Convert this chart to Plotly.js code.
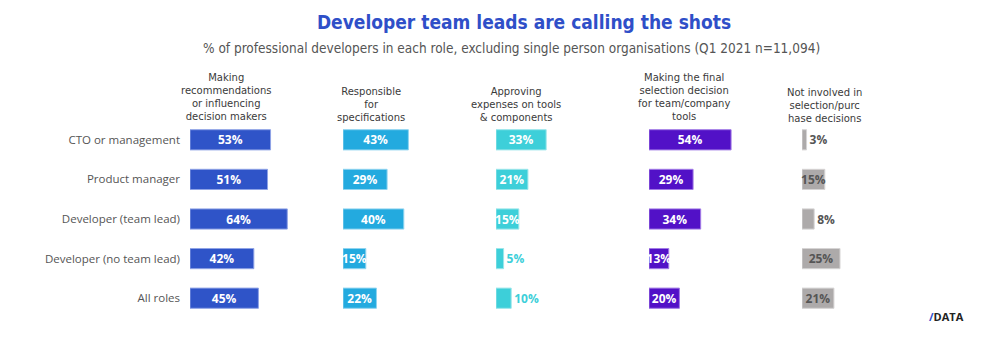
<!DOCTYPE html>
<html>
<head>
<meta charset="utf-8">
<script src="https://cdn.plot.ly/plotly-3.0.1.min.js"></script>
<style>html,body{margin:0;padding:0;background:#fff;}#chart{width:1000px;height:358px;}</style>
</head>
<body>
<div id="chart"></div>
<script>
const roles = ["CTO or management", "Product manager", "Developer (team lead)", "Developer (no team lead)", "All roles"];
const columnHeaders = [
  ["Making", "recommendations", "or influencing", "decision makers"],
  ["Responsible", "for", "specifications"],
  ["Approving", "expenses on tools", "& components"],
  ["Making the final", "selection decision", "for team/company", "tools"],
  ["Not involved in", "selection/purc", "hase decisions"]
];
const recommending = [53, 51, 64, 42, 45];
const specifications = [43, 29, 40, 15, 22];
const approving = [33, 21, 15, 5, 10];
const finalDecision = [54, 29, 34, 13, 20];
const notInvolved = [3, 15, 8, 25, 21];

const series = [recommending, specifications, approving, finalDecision, notInvolved];
const colors = ["#2F54C8", "#23AADF", "#3DCFD9", "#5211C7", "#ADAAAA"];
const lineColors = ["#8FA3E6", "#8FD4F0", "#9BE6EA", "#A27BE6", "#D6D4D4"];
const insideColors = ["#ffffff", "#ffffff", "#ffffff", "#ffffff", "#555555"];
const outsideColors = ["#2F54C8", "#23AADF", "#3DCFD9", "#5211C7", "#555555"];
const headerX = [226, 371, 516, 684, 824];
const headerLastY = [117, 118, 118, 117, 119];
const headerLineGap = 13;

const W = 1000, H = 358;
const colStart = 190, colStep = 153, colWidth = 152;
const rowTop = 120, rowBottom = 318;
const barFont = {family: "Open Sans, sans-serif", size: 12, weight: 700};

const data = series.map((vals, i) => ({
  type: "bar",
  orientation: "h",
  x: vals,
  y: roles,
  xaxis: i === 0 ? "x" : "x" + (i + 1),
  yaxis: "y",
  marker: {color: colors[i], line: {color: lineColors[i], width: 1}},
  text: vals.map(v => v + "%"),
  textposition: vals.map(v => v >= 12 ? "inside" : "outside"),
  insidetextanchor: "middle",
  textangle: 0,
  constraintext: "none",
  cliponaxis: false,
  textfont: barFont,
  insidetextfont: Object.assign({color: insideColors[i]}, barFont),
  outsidetextfont: Object.assign({color: outsideColors[i]}, barFont),
  hoverinfo: "x+y",
  showlegend: false
}));

const layout = {
  width: W, height: H,
  margin: {l: 0, r: 0, t: 0, b: 0},
  paper_bgcolor: "#ffffff",
  plot_bgcolor: "rgba(0,0,0,0)",
  bargap: 0.49,
  title: {
    text: "Developer team leads are calling the shots",
    x: 0.524, xanchor: "center",
    y: 1 - 22 / H, yanchor: "middle",
    font: {family: "DejaVu Sans Condensed, DejaVu Sans, sans-serif", size: 19, weight: 700, color: "#2F4FC8"}
  },
  yaxis: {
    domain: [1 - rowBottom / H, 1 - rowTop / H],
    type: "category",
    categoryorder: "array",
    categoryarray: roles,
    autorange: "reversed",
    showgrid: false, zeroline: false, showline: false,
    ticks: "",
    ticklabelstandoff: 9,
    tickfont: {family: "Open Sans, sans-serif", size: 11.5, color: "#555555"},
    fixedrange: true
  },
  annotations: [],
  font: {family: "Open Sans, sans-serif"}
};

series.forEach((vals, i) => {
  const key = i === 0 ? "xaxis" : "xaxis" + (i + 1);
  const start = colStart + i * colStep;
  layout[key] = {
    domain: [start / W, (start + colWidth) / W],
    range: [0, 100],
    visible: false,
    fixedrange: true,
    anchor: "y"
  };
  const lines = columnHeaders[i];
  const centerY = headerLastY[i] - (lines.length - 1) * headerLineGap / 2;
  layout.annotations.push({
    text: lines.join("<br>"),
    xref: "paper", yref: "paper",
    x: headerX[i] / W, y: 1 - centerY / H,
    xanchor: "center", yanchor: "middle",
    showarrow: false, align: "center",
    font: {family: "DejaVu Sans, sans-serif", size: 10, color: "#3a3a3a"}
  });
});

layout.annotations.push({
  text: "% of professional developers in each role, excluding single person organisations (Q1 2021 n=11,094)",
  xref: "paper", yref: "paper",
  x: 511 / W, y: 1 - 48 / H,
  xanchor: "center", yanchor: "middle",
  showarrow: false,
  font: {family: "DejaVu Sans Condensed, DejaVu Sans, sans-serif", size: 13.5, color: "#555555"}
});

layout.annotations.push({
  text: "<span style='color:#3050D0'>/</span>DATA",
  xref: "paper", yref: "paper",
  x: 946 / W, y: 1 - 316 / H,
  xanchor: "center", yanchor: "middle",
  showarrow: false,
  font: {family: "Open Sans, sans-serif", size: 11, weight: 700, color: "#222222"}
});

Plotly.newPlot("chart", data, layout, {displayModeBar: false, staticPlot: true});
</script>
</body>
</html>
